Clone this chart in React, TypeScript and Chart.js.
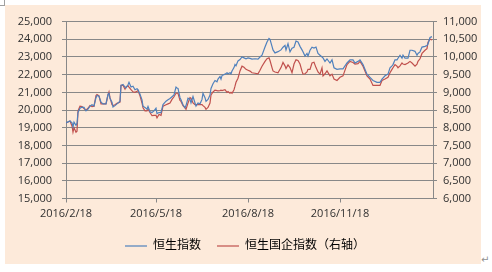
import React, { useEffect, useRef } from 'react';
import { Chart, registerables } from 'chart.js';

Chart.register(...registerables);

const START_DATE = '2016/2/18';
const END_DAY = 367;
const tickLabels = ['2016/2/18', '2016/5/18', '2016/8/18', '2016/11/18'];
const seriesNames = ['恒生指数', '恒生国企指数（右轴）'];

// trading days, as day offsets from 2016/2/18
const dayOffsets = [
  0, 2, 4, 6, 7, 8, 10, 11, 12, 14,
  16, 18, 20, 22, 24, 26, 28, 30, 31, 33,
  35, 37, 40, 42, 43, 44, 46, 47, 49, 51,
  54, 55, 57, 59, 60, 62, 63, 65, 67, 69,
  71, 72, 74, 76, 77, 79, 81, 82, 84, 86,
  88, 90, 91, 93, 95, 97, 100, 102, 104, 106,
  108, 110, 111, 112, 114, 115, 117, 119, 120, 122,
  124, 125, 127, 129, 130, 132, 134, 136, 137, 139,
  140, 142, 144, 145, 147, 149, 151, 152, 154, 155,
  156, 159, 161, 162, 164, 165, 166, 168, 169, 170,
  172, 174, 176, 178, 180, 182, 184, 186, 189, 192,
  194, 196, 199, 201, 203, 204, 206, 207, 209, 212,
  215, 217, 219, 220, 222, 224, 226, 228, 230, 232,
  234, 236, 237, 239, 241, 242, 244, 246, 248, 250,
  252, 254, 256, 257, 259, 261, 264, 266, 268, 271,
  274, 277, 281, 284, 287, 289, 292, 294, 297, 301,
  304, 307, 311, 314, 316, 319, 322, 324, 326, 327,
  329, 331, 332, 334, 336, 337, 339, 342, 344, 346,
  349, 351, 352, 354, 356, 359, 361, 362, 364, 366,
];

const hsiValues = [
  19270, 19330, 19380, 19280, 19050, 19320, 19140, 19250, 19860, 20100,
  20170, 20150, 19950, 20050, 20220, 20300, 20230, 20700, 20820, 20780,
  20450, 20350, 20350, 20890, 20950, 20650, 20450, 20170, 20250, 20350,
  20500, 21400, 21450, 21300, 21250, 21430, 21570, 21300, 21350, 21150,
  21200, 21150, 20900, 20580, 20220, 20150, 20050, 20200, 19900, 19860,
  19950, 20100, 19800, 19860, 19860, 20310, 20500, 20580, 20650, 20750,
  20850, 21300, 21250, 21220, 20700, 20580, 20300, 20130, 20250, 20670,
  20600, 20400, 20760, 20400, 20220, 20400, 20350, 20600, 20950, 20700,
  20490, 20600, 20850, 21220, 21490, 21670, 21600, 21750, 21900, 21750,
  21950, 22030, 22110, 22050, 22110, 22050, 22210, 22400, 22570, 22500,
  22780, 22850, 23000, 22950, 22900, 22950, 22920, 22880, 22900, 22880,
  23000, 23100, 23560, 23850, 24050, 24000, 23600, 23400, 23230, 23300,
  23400, 23550, 23650, 23400, 23750, 23290, 23500, 23550, 23900, 23850,
  23600, 23400, 23300, 23050, 23200, 23050, 23380, 23550, 23500, 23560,
  23200, 23100, 23000, 22950, 22750, 22890, 22660, 22840, 22390, 22300,
  22330, 22330, 22660, 22840, 22840, 22660, 22750, 22840, 22570, 22030,
  21850, 21670, 21570, 21570, 21750, 21940, 22030, 22390, 22500, 22570,
  22840, 22840, 22930, 23100, 22930, 23100, 22930, 22930, 23380, 23380,
  23320, 23100, 23200, 23290, 23560, 23600, 23650, 23740, 24100, 24150,
];

const hsceiValues = [
  8135, 8160, 8190, 8050, 7875, 8000, 7875, 7900, 8475, 8610,
  8600, 8540, 8495, 8550, 8630, 8600, 8610, 8910, 8940, 8900,
  8675, 8675, 8675, 8925, 9010, 8850, 8650, 8625, 8650, 8690,
  8725, 9200, 9200, 9090, 9150, 9190, 9150, 9075, 9015, 9000,
  9030, 9050, 8900, 8700, 8565, 8475, 8475, 8525, 8430, 8340,
  8350, 8350, 8280, 8375, 8350, 8610, 8650, 8675, 8700, 8800,
  8875, 8975, 8975, 8975, 8775, 8745, 8625, 8565, 8520, 8700,
  8850, 8835, 8700, 8655, 8655, 8655, 8655, 8655, 8625, 8575,
  8520, 8575, 8700, 8925, 9015, 9060, 9050, 9040, 9050, 9060,
  9050, 9075, 9000, 9025, 8975, 9000, 8975, 9075, 9175, 9285,
  9400, 9605, 9740, 9710, 9650, 9625, 9600, 9555, 9540, 9525,
  9625, 9740, 9875, 9950, 9975, 9900, 9700, 9605, 9575, 9550,
  9700, 9845, 9750, 9675, 9775, 9700, 9555, 9800, 9920, 9900,
  9800, 9600, 9515, 9525, 9575, 9650, 9650, 9830, 9850, 9700,
  9575, 9515, 9695, 9465, 9525, 9605, 9465, 9515, 9375, 9335,
  9425, 9465, 9785, 9875, 9845, 9800, 9810, 9875, 9740, 9465,
  9375, 9195, 9195, 9195, 9335, 9375, 9425, 9555, 9650, 9695,
  9785, 9740, 9695, 9750, 9830, 9800, 9785, 9830, 9875, 9830,
  9740, 9800, 9875, 9950, 10100, 10190, 10235, 10415, 10505, 10485,
];

function daysFromStart(label: string): number {
  const [y, m, d] = label.split('/').map(Number);
  const [y0, m0, d0] = START_DATE.split('/').map(Number);
  return Math.round((Date.UTC(y, m - 1, d) - Date.UTC(y0, m0 - 1, d0)) / 86400000);
}

const tickPositions = tickLabels.map(daysFromStart);

const GRID = '#888888';
const TEXT = '#303030';
const FONT = "'Open Sans', 'Noto Sans CJK SC', sans-serif";

const legendShift = {
  id: 'legendShift',
  afterLayout(chart: any) {
    const l = chart.legend;
    if (l) {
      l.left += 2;
      l.right += 2;
    }
  },
};

export default function App() {
  const ref = useRef<HTMLCanvasElement | null>(null);

  useEffect(() => {
    if (!ref.current) return;
    const chart = new Chart(ref.current, {
      type: 'line',
      data: {
        datasets: [
          {
            label: seriesNames[0],
            data: dayOffsets.map((d, i) => ({ x: d, y: hsiValues[i] })),
            borderColor: '#4F81BD',
            backgroundColor: '#4F81BD',
            borderWidth: 1.2,
            pointRadius: 0,
            tension: 0,
            yAxisID: 'y',
          },
          {
            label: seriesNames[1],
            data: dayOffsets.map((d, i) => ({ x: d, y: hsceiValues[i] })),
            borderColor: '#C0504D',
            backgroundColor: '#C0504D',
            borderWidth: 1.2,
            pointRadius: 0,
            tension: 0,
            yAxisID: 'y1',
          },
        ],
      },
      options: {
        responsive: false,
        animation: false,
        events: [],
        layout: { padding: { top: 8, bottom: 2, left: 0, right: 0 } },
        plugins: {
          tooltip: { enabled: false },
          legend: {
            position: 'bottom',
            labels: {
              usePointStyle: true,
              pointStyle: 'line',
              pointStyleWidth: 22,
              padding: 16,
              color: '#000',
              font: { family: FONT, size: 12 },
            },
          },
        },
        scales: {
          x: {
            type: 'linear',
            min: 0,
            max: END_DAY,
            afterBuildTicks: (s: any) => {
              s.ticks = tickPositions.map((v) => ({ value: v }));
            },
            afterFit: (s: any) => {
              s.height = 25.5;
            },
            ticks: {
              autoSkip: false,
              maxRotation: 0,
              padding: 5,
              color: TEXT,
              font: { family: FONT, size: 11 },
              callback: (v: any) => {
                const i = tickPositions.indexOf(Number(v));
                return i >= 0 ? tickLabels[i] : '';
              },
            },
            grid: { drawOnChartArea: false, tickLength: 4, color: GRID },
            border: { color: GRID },
          },
          y: {
            position: 'left',
            min: 15000,
            max: 25000,
            afterFit: (s: any) => {
              s.width = 61;
            },
            ticks: {
              stepSize: 1000,
              padding: 10,
              color: TEXT,
              font: { family: FONT, size: 11 },
              callback: (v: any) => Number(v).toLocaleString('en-US'),
            },
            grid: { color: GRID, tickLength: 4 },
            border: { color: GRID },
          },
          y1: {
            position: 'right',
            min: 6000,
            max: 11000,
            afterFit: (s: any) => {
              s.width = 48;
            },
            ticks: {
              stepSize: 500,
              padding: 6,
              color: TEXT,
              font: { family: FONT, size: 11 },
              callback: (v: any) => Number(v).toLocaleString('en-US'),
            },
            grid: { drawOnChartArea: false, color: GRID, tickLength: 4 },
            border: { color: GRID },
          },
        },
      } as any,
      plugins: [legendShift],
    });
    return () => chart.destroy();
  }, []);

  return (
    <div style={{ position: 'fixed', left: 0, top: 0, width: 492, height: 272, background: '#fff', overflow: 'hidden' }}>
      <div style={{ position: 'absolute', left: 0, top: 0, width: 4, height: 5, borderRight: '1px solid #a0a0a0', borderBottom: '1px solid #a0a0a0' }} />
      <div style={{ position: 'absolute', left: 5, top: 5, width: 476, height: 259, background: '#FDEADA' }}>
        <canvas ref={ref} width={476} height={259} style={{ display: 'block', width: 476, height: 259 }} />
      </div>
      <span style={{ position: 'absolute', left: 481, top: 254, fontSize: 10, color: '#909090', fontFamily: 'DejaVu Sans' }}>↵</span>
    </div>
  );
}
